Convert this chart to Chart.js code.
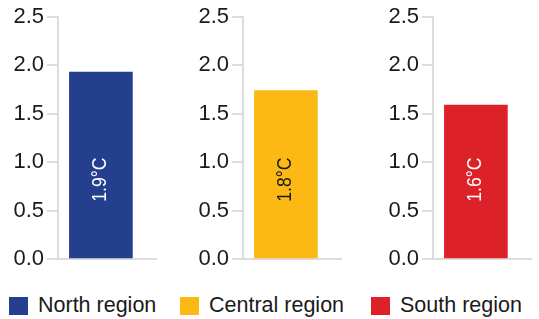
<!DOCTYPE html>
<html>
<head>
<meta charset="utf-8">
<script src="https://cdn.jsdelivr.net/npm/chart.js@4/dist/chart.umd.min.js"></script>
<style>
  body { margin: 0; background: #fff; width: 539px; height: 319px; overflow: hidden; position: relative; font-family: "Liberation Sans", Arial, sans-serif; }
  .panel { position: absolute; top: 0; width: 157px; height: 280px; }
  .legend-item { position: absolute; top: 293px; display: flex; align-items: center; font-size: 21.5px; color: #1a1a1a; white-space: nowrap; }
  .legend-box { width: 19px; height: 18px; margin-right: 10px; }
</style>
</head>
<body>
<div class="panel" style="left:0px"><canvas id="c0"></canvas></div>
<div class="panel" style="left:185px"><canvas id="c1"></canvas></div>
<div class="panel" style="left:375px"><canvas id="c2"></canvas></div>
<div id="legend"></div>
<script>
const regions = ['North region', 'Central region', 'South region'];
const warming = [1.93, 1.74, 1.59];
const barLabels = ['1.9°C', '1.8°C', '1.6°C'];
const colors = ['#253f8f', '#fdb913', '#dd2128'];
const labelColors = ['#ffffff', '#1a1a1a', '#ffffff'];
const yTicks = [0, 0.5, 1.0, 1.5, 2.0, 2.5];

const legendLefts = [9, 180, 371];

// rotated value label inside each bar
const barLabelPlugin = {
  id: 'barLabel',
  afterDatasetsDraw(chart, args, opts) {
    const ctx = chart.ctx;
    const bar = chart.getDatasetMeta(0).data[0];
    const y = chart.scales.y.getPixelForValue(0.82);
    ctx.save();
    ctx.translate(bar.x, y);
    ctx.rotate(-Math.PI / 2);
    ctx.scale(0.88, 1);
    ctx.font = '20px "Liberation Sans", Arial, sans-serif';
    ctx.fillStyle = opts.color;
    ctx.textAlign = 'center';
    ctx.textBaseline = 'middle';
    ctx.fillText(opts.text, 0, 0);
    ctx.restore();
  }
};

regions.forEach((name, i) => {
  const ctx = document.getElementById('c' + i).getContext('2d');
  new Chart(ctx, {
    type: 'bar',
    data: {
      datasets: [{
        label: name,
        data: [{ x: 0, y: warming[i] }],
        backgroundColor: colors[i],
        barThickness: 63
      }]
    },
    plugins: [barLabelPlugin],
    options: {
      responsive: true,
      maintainAspectRatio: false,
      animation: false,
      layout: { padding: { top: 17, bottom: 21, right: 0, left: 0 } },
      plugins: {
        legend: { display: false },
        tooltip: { enabled: false },
        barLabel: { text: barLabels[i], color: labelColors[i] }
      },
      scales: {
        x: {
          type: 'linear',
          min: -0.40,
          max: 0.60,
          ticks: { display: false },
          grid: { display: false, drawTicks: false },
          border: { display: true, color: '#dcdcdc', width: 2 }
        },
        y: {
          min: 0,
          max: 2.5,
          afterBuildTicks: (scale) => { scale.ticks = yTicks.map(v => ({ value: v })); },
          afterFit: (scale) => { scale.width = 58; },
          ticks: {
            padding: 3,
            color: '#1a1a1a',
            font: { family: '"Liberation Sans", Arial, sans-serif', size: 22 },
            callback: (v) => Number(v).toFixed(1)
          },
          grid: { drawOnChartArea: false, tickLength: 11, color: '#dcdcdc', lineWidth: 2 },
          border: { display: true, color: '#dcdcdc', width: 2 }
        }
      }
    }
  });
});

const legend = document.getElementById('legend');
regions.forEach((name, i) => {
  const item = document.createElement('div');
  item.className = 'legend-item';
  item.style.left = legendLefts[i] + 'px';
  item.innerHTML = '<span class="legend-box" style="background:' + colors[i] + '"></span>' + name;
  legend.appendChild(item);
});
</script>
</body>
</html>
